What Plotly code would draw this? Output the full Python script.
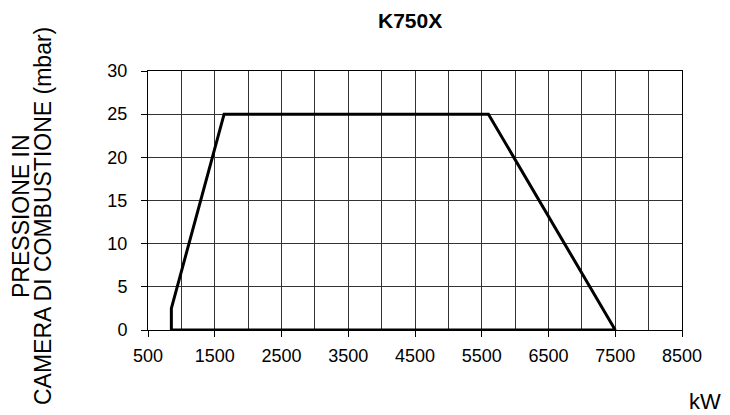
import plotly.graph_objects as go

# Data (kW, mbar)
power_kw = [850, 850, 1640, 5600, 7500, 850]
pressure_mbar = [0, 2.5, 25, 25, 0, 0]
x_ticks = [500, 1500, 2500, 3500, 4500, 5500, 6500, 7500, 8500]
y_ticks = [0, 5, 10, 15, 20, 25, 30]

OFF = 8  # page body margin offset
W, H = 730 - OFF, 415 - OFF
L, T = 148 - OFF, 71 - OFF
R = W - (682 - OFF)
B = H - (330 - OFF)
pw = W - L - R
ph = H - T - B


def px_x(x):
    return (x - OFF - L) / pw


def px_y(y):
    return 1 - (y - OFF - T) / ph


fig = go.Figure()
fig.add_trace(go.Scatter(x=power_kw, y=pressure_mbar, mode="lines",
                         line=dict(color="black", width=3), showlegend=False,
                         hoverinfo="skip"))

font = "Liberation Sans, Arial, sans-serif"
grid = "#333333"
fig.update_layout(
    width=W, height=H,
    margin=dict(l=L, r=R, t=T, b=B),
    paper_bgcolor="white", plot_bgcolor="white",
    font=dict(family=font, color="black", size=18),
    xaxis=dict(range=[500, 8500], tickvals=x_ticks, ticktext=[str(v) for v in x_ticks],
               showgrid=True, gridcolor=grid, gridwidth=1,
               minor=dict(dtick=500, tick0=500, showgrid=True, gridcolor=grid, gridwidth=1),
               showline=True, linecolor="black", linewidth=1, mirror=True,
               ticks="outside", ticklen=6, tickcolor="black", zeroline=False,
               ticklabelstandoff=3, tickfont=dict(size=18)),
    yaxis=dict(range=[0, 30], tickvals=y_ticks,
               showgrid=True, gridcolor=grid, gridwidth=1,
               showline=True, linecolor="black", linewidth=1, mirror=True,
               ticks="outside", ticklen=6, tickcolor="black", zeroline=False,
               ticklabelstandoff=10, tickfont=dict(size=18)),
    annotations=[
        dict(text="<b>K750X</b>", xref="paper", yref="paper",
             x=px_x(410), y=px_y(21), xanchor="center", yanchor="middle",
             showarrow=False, font=dict(size=21)),
        dict(text="PRESSIONE IN", xref="paper", yref="paper",
             x=px_x(21), y=px_y(216), xanchor="center", yanchor="middle",
             textangle=-90, showarrow=False, font=dict(size=23)),
        dict(text="CAMERA DI COMBUSTIONE (mbar)", xref="paper", yref="paper",
             x=px_x(43), y=px_y(216), xanchor="center", yanchor="middle",
             textangle=-90, showarrow=False, font=dict(size=23)),
        dict(text="kW", xref="paper", yref="paper",
             x=px_x(705), y=px_y(401), xanchor="center", yanchor="middle",
             showarrow=False, font=dict(size=22)),
    ],
)

fig.write_html("out.html")
